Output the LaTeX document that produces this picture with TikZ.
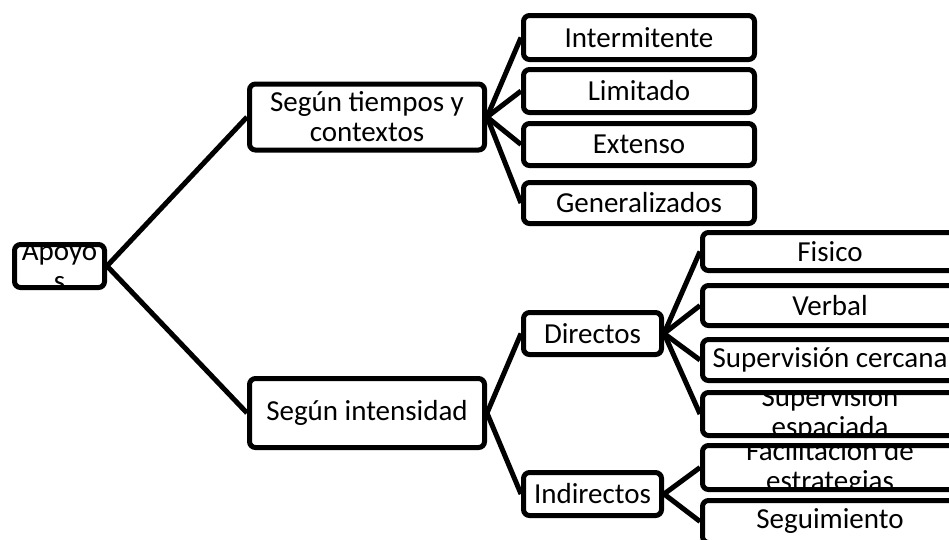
\documentclass[tikz,border=0pt]{standalone}
\usepackage{fontspec}
\setmainfont{Carlito}
\begin{document}
\begin{tikzpicture}[x=1pt,y=-1pt,font=\fontsize{29}{30}\selectfont,
  caja/.style 2 args={draw,line width=5pt,rounded corners=6pt,inner sep=0pt,
    minimum width=#1pt,minimum height=#2pt},
  txt/.style={path picture={\node[align=center,inner sep=0pt]
    at (path picture bounding box.center) {#1};}},
  linea/.style={line width=5pt}]
\useasboundingbox (0,0) rectangle (949,539);
% raiz
\node[caja={90}{43},txt={Apoyo\\s}] (apoyos) at (59.5,266) {};
% primer nivel
\node[caja={235}{66},txt={Según tiempos y\\contextos}] (tiempos) at (367,117) {};
\node[caja={235}{69},txt={Según intensidad}] (intensidad) at (367,413) {};
% segundo nivel
\node[caja={231}{44},txt={Intermitente}] (intermitente) at (639,37.5) {};
\node[caja={231}{43},txt={Limitado}] (limitado) at (639,91) {};
\node[caja={231}{42},txt={Extenso}] (extenso) at (639,144.5) {};
\node[caja={231}{41},txt={Generalizados}] (generalizados) at (639,203) {};
\node[caja={138}{42},txt={Directos}] (directos) at (592.5,333.5) {};
\node[caja={138}{43},txt={Indirectos}] (indirectos) at (592.5,494) {};
% tercer nivel
\node[caja={255}{38},txt={Fisico}] (fisico) at (830,251.5) {};
\node[caja={255}{40},txt={Verbal}] (verbal) at (830,305.5) {};
\node[caja={255}{41},txt={Supervisión cercana}] (cercana) at (830,360) {};
\node[caja={255}{43},txt={Supervisión\\espaciada}] (espaciada) at (830,414) {};
\node[caja={255}{44},txt={Facilitación de\\estrategias}] (facilitacion) at (830,467.5) {};
\node[caja={255}{42},txt={Seguimiento}] (seguimiento) at (830,521.5) {};
% conectores
\foreach \n in {tiempos,intensidad}
  \draw[linea] (apoyos.east) -- (\n.west);
\foreach \n in {intermitente,limitado,extenso,generalizados}
  \draw[linea] (tiempos.east) -- (\n.west);
\foreach \n in {directos,indirectos}
  \draw[linea] (intensidad.east) -- (\n.west);
\foreach \n in {fisico,verbal,cercana,espaciada}
  \draw[linea] (directos.east) -- (\n.west);
\foreach \n in {facilitacion,seguimiento}
  \draw[linea] (indirectos.east) -- (\n.west);
\end{tikzpicture}
\end{document}
